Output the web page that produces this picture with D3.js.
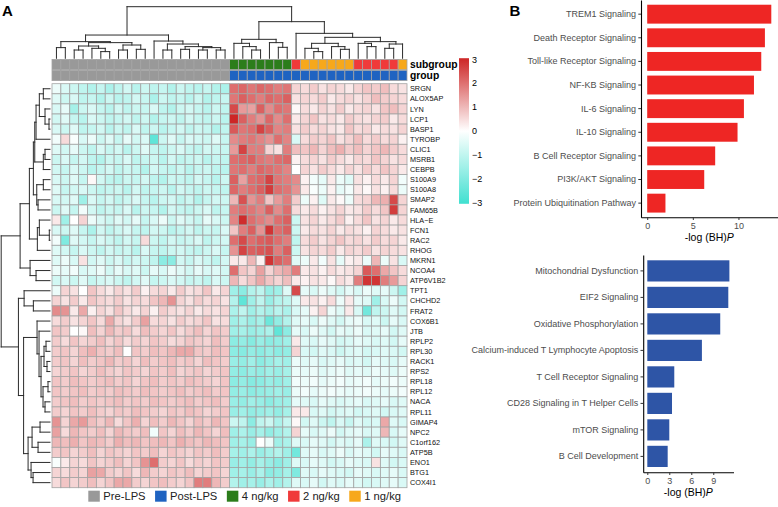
<!DOCTYPE html>
<html><head><meta charset="utf-8">
<script src="https://cdn.jsdelivr.net/npm/d3@7"></script>
<style>body{margin:0;background:#fff} svg{display:block;font-family:"Liberation Sans",Arial,sans-serif}</style>
</head><body><svg id="c" width="778" height="507"></svg>
<script>
// ---------------- DATA ----------------
const genes = ["SRGN","ALOX5AP","LYN","LCP1","BASP1","TYROBP","CLIC1","MSRB1","CEBPB","S100A9","S100A8","SMAP2","FAM65B","HLA−E","FCN1","RAC2","RHOG","MKRN1","NCOA4","ATP6V1B2","TPT1","CHCHD2","FRAT2","COX6B1","JTB","RPLP2","RPL30","RACK1","RPS2","RPL18","RPL12","NACA","RPL11","GIMAP4","NPC2","C1orf162","ATP5B","ENO1","BTG1","COX4I1"];
const groupOfColumn = ["Pre-LPS","Pre-LPS","Pre-LPS","Pre-LPS","Pre-LPS","Pre-LPS","Pre-LPS","Pre-LPS","Pre-LPS","Pre-LPS","Pre-LPS","Pre-LPS","Pre-LPS","Pre-LPS","Pre-LPS","Pre-LPS","Pre-LPS","Pre-LPS","Pre-LPS","Pre-LPS","Post-LPS","Post-LPS","Post-LPS","Post-LPS","Post-LPS","Post-LPS","Post-LPS","Post-LPS","Post-LPS","Post-LPS","Post-LPS","Post-LPS","Post-LPS","Post-LPS","Post-LPS","Post-LPS","Post-LPS","Post-LPS","Post-LPS","Post-LPS"];
const subgroupOfColumn = ["Pre-LPS","Pre-LPS","Pre-LPS","Pre-LPS","Pre-LPS","Pre-LPS","Pre-LPS","Pre-LPS","Pre-LPS","Pre-LPS","Pre-LPS","Pre-LPS","Pre-LPS","Pre-LPS","Pre-LPS","Pre-LPS","Pre-LPS","Pre-LPS","Pre-LPS","Pre-LPS","4 ng/kg","4 ng/kg","4 ng/kg","4 ng/kg","4 ng/kg","4 ng/kg","4 ng/kg","2 ng/kg","1 ng/kg","1 ng/kg","1 ng/kg","1 ng/kg","1 ng/kg","1 ng/kg","2 ng/kg","2 ng/kg","2 ng/kg","2 ng/kg","2 ng/kg","1 ng/kg"];
const legendLabels = ["Pre-LPS","Post-LPS","4 ng/kg","2 ng/kg","1 ng/kg"];
const legendColors = ["#999999","#1f63c1","#2c7d1b","#f03a3a","#f7a81b"];
const colorTicks = [3,2,1,0,-1,-2,-3];

const heatValues = [
[-0.3,-0.6,-0.8,-1.0,-1.2,-0.9,-1.3,-1.0,-0.7,-1.1,-0.8,-1.0,-0.9,-1.2,-0.8,-1.0,-1.1,-0.9,-1.2,-1.3,2.0,2.1,1.9,2.1,2.0,1.8,1.9,0.6,0.5,0.7,0.4,0.6,0.5,0.3,0.6,0.8,0.7,0.9,0.5,0.4],
[-0.5,-0.8,-0.6,-1.0,-0.9,-1.2,-0.8,-1.1,-1.0,-0.7,-0.9,-1.3,-0.8,-1.0,-0.9,-1.1,-0.8,-1.2,-1.0,-0.9,1.9,2.2,2.0,1.8,2.1,2.0,2.2,0.4,0.6,0.5,0.7,0.3,0.5,0.6,0.4,0.6,0.9,0.7,0.6,0.5],
[-0.6,-0.4,-1.4,-0.8,-0.6,-0.9,-1.1,-0.7,-1.0,-0.8,-0.9,-0.6,-1.0,-1.2,-0.8,-0.7,-0.9,-1.1,-0.8,-1.0,2.5,1.4,1.3,2.2,1.6,2.0,1.9,0.1,0.5,0.3,0.6,0.4,0.7,0.3,0.5,0.6,0.4,0.8,0.9,0.6],
[-0.7,-0.5,-0.9,-1.1,-0.6,-0.8,-1.0,-0.9,-0.7,-1.0,-0.8,-1.2,-0.9,-0.8,-1.0,-0.7,-0.9,-1.0,-0.8,-1.1,3.0,2.2,1.8,1.5,2.1,1.6,2.0,0.3,0.6,0.8,0.4,0.5,0.3,0.7,0.5,0.4,0.6,0.7,0.3,0.5],
[-0.6,-0.8,-0.5,-1.0,-0.9,-0.7,-1.1,-0.8,-1.0,-0.6,-1.0,-0.8,-1.1,-0.9,-0.7,-1.0,-0.8,-0.9,-1.2,-1.0,2.3,1.9,2.0,2.6,2.2,1.7,1.8,0.4,0.7,0.5,0.6,0.4,0.3,0.8,0.5,0.6,0.3,0.5,0.4,0.6],
[-0.2,0.5,-0.1,-0.6,-0.3,-0.8,-0.5,-0.9,-0.4,-0.7,-0.6,-2.5,-0.8,-0.5,-0.9,-0.6,-0.7,-0.8,-0.5,-0.9,1.6,1.8,1.9,1.7,1.5,2.0,1.7,-0.6,0.5,0.7,0.6,0.8,0.4,0.6,0.9,0.5,0.7,0.5,0.6,0.2],
[-0.5,-0.7,-0.4,-0.8,-1.0,-0.6,-0.9,-0.7,-1.1,-0.8,-0.5,-0.9,-1.0,-0.8,-0.6,-0.9,-1.0,-0.7,-0.8,-0.9,1.4,2.6,1.8,1.8,0.6,0.4,1.8,0.9,0.8,1.0,0.6,0.9,1.1,0.7,0.9,0.6,0.8,1.0,0.7,0.5],
[-0.8,-0.6,-0.9,-0.7,-1.0,-1.2,-0.8,-0.9,-0.6,-1.0,-0.9,-0.8,-1.1,-0.7,-1.0,-0.9,-0.8,-1.1,-0.9,-1.0,2.0,2.1,2.2,1.9,1.8,2.0,2.1,0.2,0.5,0.6,0.4,0.7,0.5,0.3,0.6,0.5,0.8,0.6,0.4,0.5],
[-0.7,-0.9,-0.6,-0.8,-1.1,-0.9,-0.7,-1.0,-0.8,-0.9,-1.2,-0.7,-0.9,-1.0,-0.8,-1.1,-0.9,-0.8,-1.0,-1.1,1.9,2.0,1.8,2.1,2.0,1.9,1.7,0.0,0.6,0.4,0.7,0.5,0.3,0.6,0.4,0.7,0.5,0.8,0.6,0.3],
[-0.6,-0.8,-0.5,-0.9,0.1,-0.7,-1.0,-1.1,-0.8,-0.9,-0.7,-1.0,-1.2,-0.8,-0.9,-1.0,-0.7,-0.9,-1.1,-0.8,2.2,1.3,2.0,2.1,2.6,1.9,1.8,1.6,0.2,-0.2,-0.4,0.3,-0.3,-0.5,0.4,0.2,0.5,0.3,0.6,-0.2],
[-0.5,-0.9,-0.7,-0.6,-0.8,-1.0,-0.9,-0.8,-1.1,-0.7,-1.0,-0.9,-0.8,-1.1,-0.7,-0.9,-1.0,-0.8,-0.9,-1.0,2.1,1.8,2.0,2.2,2.7,2.0,1.9,1.5,0.3,-0.1,-0.3,0.2,-0.4,-0.2,0.3,0.1,0.4,0.2,0.5,-0.3],
[-0.6,-0.7,-0.5,-1.5,-0.6,-0.9,-0.7,-1.0,-0.8,-0.6,-0.9,-1.1,-0.8,-0.7,-1.0,-0.8,-1.2,-0.9,-0.7,-0.8,1.0,2.4,1.5,1.8,0.8,1.4,1.8,0.7,-0.3,0.2,-0.5,0.3,0.1,-0.3,0.5,0.6,1.0,1.1,2.5,0.6],
[-0.8,-0.5,-0.9,-0.2,-0.7,-1.0,-0.8,-0.9,-0.6,-1.1,-0.8,-0.9,-1.2,-0.7,-0.9,-1.0,-0.8,-0.6,-1.0,-0.9,1.8,2.0,1.9,1.7,2.2,1.6,2.0,0.5,0.3,0.5,0.2,0.4,0.6,0.3,0.4,0.7,0.5,0.8,2.7,0.6],
[0.3,-1.5,0.0,0.6,-0.3,-0.6,-0.8,-0.5,-0.7,-0.4,-0.9,-0.6,-0.3,-0.8,-0.5,-0.7,-0.9,-0.4,-0.6,-0.8,1.7,2.9,2.0,1.8,1.6,2.0,2.2,-0.8,0.4,0.6,0.3,0.5,0.7,0.2,0.5,0.8,0.4,0.6,0.3,0.5],
[-0.6,-0.8,-0.5,-0.9,-1.3,-0.7,-1.0,-0.8,-0.6,-0.9,-1.0,-0.7,-0.8,-1.1,-0.9,-0.7,-1.0,-0.8,-0.9,-0.6,0.8,1.8,2.2,1.5,2.8,2.0,2.2,-0.8,0.3,0.5,0.4,0.6,0.3,0.5,0.4,0.2,0.6,0.5,0.3,0.4],
[-0.2,-2.0,-0.5,-0.7,-0.9,-0.6,-0.8,-1.0,-0.7,-0.9,0.5,-0.8,-1.0,-0.7,-0.9,-0.8,-0.6,-1.0,-0.8,-0.7,2.0,2.5,2.0,2.2,2.3,2.0,1.8,-1.0,0.5,0.7,0.4,0.6,0.8,0.5,0.6,0.4,0.7,0.5,0.6,0.3],
[-0.5,-0.7,-0.9,-0.6,-0.8,-1.0,-0.7,-0.9,-0.8,-1.1,-0.6,-0.9,-1.0,-0.8,-0.7,-0.9,-1.0,-0.8,-0.6,-0.9,1.5,2.6,2.2,2.3,2.4,1.8,2.2,-0.8,0.4,0.6,0.5,0.7,0.3,0.6,0.5,0.7,0.4,0.6,0.5,0.4],
[-0.5,-0.3,-0.6,0.4,-0.7,-0.5,-0.8,-0.6,-0.9,-0.7,-0.8,-1.0,-1.8,-1.8,-0.7,-0.9,-0.6,-0.8,-1.0,-0.7,0.3,0.3,1.0,0.2,2.8,2.2,2.0,-0.5,-0.3,0.3,-0.2,0.4,-0.4,0.2,0.3,-0.3,1.0,-0.3,0.4,-0.6],
[-0.3,-0.4,-0.2,-0.6,-0.5,-0.3,-0.7,-0.4,-0.6,-0.5,-0.8,-0.4,-0.6,-0.3,-0.5,-0.7,-0.4,-0.6,-0.5,-0.7,2.0,0.8,0.6,1.3,0.6,1.0,1.2,1.8,0.3,0.4,0.2,0.5,0.3,0.4,0.6,2.3,2.0,1.2,0.8,0.5],
[-0.7,-0.6,-0.8,-0.5,-0.9,-0.7,-0.6,-0.8,-1.0,-0.7,-0.5,-0.9,-0.8,-0.6,-0.7,-0.9,-0.8,-1.0,-0.6,-0.8,1.0,0.5,0.8,1.2,0.8,0.6,0.9,0.3,0.2,0.4,0.3,0.1,0.5,0.3,1.8,2.8,2.8,1.8,1.4,0.6],
[-0.3,0.6,0.4,0.0,0.8,0.5,0.3,0.6,0.4,0.7,0.2,0.5,0.6,0.3,0.7,0.4,0.5,0.8,0.3,0.6,-1.5,-1.8,-1.2,-1.0,-1.6,-1.5,-0.5,2.5,-0.4,-0.6,-0.3,-0.5,-0.7,-0.4,-0.6,-0.3,-0.5,-0.4,-0.8,-1.5],
[0.6,0.4,0.7,0.3,0.8,0.6,0.5,0.7,0.4,0.6,0.5,0.8,1.0,1.5,0.6,0.4,0.7,0.5,0.6,0.4,-1.2,-2.5,-1.5,-1.0,-1.6,-1.2,-1.0,-0.5,0.3,0.4,0.2,0.5,-0.3,0.3,-0.4,-0.5,-1.5,-0.6,-0.3,-0.7],
[1.6,1.5,0.3,1.2,0.2,0.6,0.4,0.8,0.5,0.3,0.6,0.2,0.7,0.5,0.4,0.6,0.3,0.5,0.4,0.6,-1.3,-1.0,-1.5,-1.2,-1.4,-1.1,-1.3,-0.6,-0.4,0.2,0.6,-0.3,-0.5,0.3,-0.6,-2.2,-1.0,-0.8,-0.5,-0.7],
[0.5,0.7,0.4,0.6,0.8,0.5,1.2,0.6,0.4,0.7,1.3,0.5,0.6,0.4,0.7,0.5,0.6,0.8,0.4,0.5,-1.5,-1.3,-1.6,-1.4,-2.3,-1.7,-1.2,-0.5,-0.4,-0.6,-0.3,-0.5,-0.7,-0.4,-0.3,-0.6,-0.5,-0.8,-0.4,-0.6],
[0.8,0.7,0.0,0.1,0.9,0.6,1.0,0.7,0.8,0.5,0.9,0.7,0.6,0.8,0.5,0.7,0.9,0.6,0.8,0.7,-1.5,-1.4,-1.6,-1.5,-1.3,-2.5,-1.8,-0.4,-0.6,-0.3,-0.5,-0.7,-0.4,-0.5,-0.3,-0.6,-0.5,-0.4,-0.7,-0.5],
[0.7,0.5,0.8,0.6,0.7,0.9,0.6,0.8,0.5,0.7,0.6,0.8,0.7,0.5,0.6,0.8,0.7,0.6,0.9,0.7,-1.8,-1.7,-1.9,-1.6,-1.8,-1.7,-1.5,0.3,-0.5,-0.6,-0.4,-0.5,-0.7,-0.6,-0.4,-0.5,-0.6,-0.5,-0.7,-0.4],
[0.7,0.8,0.6,0.9,1.1,0.8,0.7,0.9,0.0,0.8,0.7,0.9,0.8,1.0,1.2,1.2,0.8,0.7,0.9,0.8,-1.8,-1.9,-1.7,-1.8,-1.6,-1.8,-1.7,0.6,-0.6,-0.7,-0.5,-0.6,-0.8,-0.6,-0.5,-0.7,-0.6,-0.5,-0.6,-0.7],
[0.7,0.8,0.6,0.9,0.7,0.8,1.0,0.7,0.8,0.6,0.9,0.7,0.8,0.9,0.7,0.8,0.6,0.9,0.8,0.7,-1.6,-1.7,-1.5,-1.8,-1.6,-1.4,-1.5,-0.3,-0.5,-0.4,-0.6,-0.5,-0.4,-0.6,-0.5,-0.7,-0.4,-0.5,-0.6,-0.4],
[0.6,0.7,0.8,0.6,0.7,0.9,0.7,0.6,0.8,0.7,0.6,0.8,0.7,0.9,0.6,0.7,0.8,0.6,0.7,0.8,-1.7,-1.8,-1.6,-1.7,-1.5,-1.6,-1.4,-0.3,-0.4,-0.3,-0.5,-0.4,-0.3,-0.5,-0.4,-0.5,-0.3,-0.4,-0.5,-0.3],
[0.8,0.7,0.9,0.8,0.7,0.8,0.9,0.7,0.8,0.6,0.8,0.9,0.7,0.8,0.7,0.9,0.8,0.7,0.6,0.8,-1.8,-1.7,-1.9,-1.8,-1.6,-1.7,-1.5,-0.2,-0.3,-0.2,-0.4,-0.3,-0.2,-0.4,-0.3,-0.2,-0.4,-0.3,-0.2,-0.3],
[0.8,0.7,0.8,0.9,0.7,0.8,0.7,0.9,0.8,0.7,0.9,0.8,0.7,0.8,0.9,0.7,0.8,0.9,0.7,0.8,-1.7,-1.6,-1.8,-1.7,-1.6,-1.5,-1.6,-0.3,-0.2,-0.4,-0.3,-0.2,-0.3,-0.4,-0.3,-0.2,-0.3,-0.4,-0.3,-0.2],
[0.7,0.8,0.9,0.7,0.8,0.7,0.8,0.9,0.7,0.8,0.7,0.9,0.8,0.7,0.8,0.9,0.7,0.8,0.9,0.7,-1.6,-1.7,-1.5,-1.6,-1.8,-1.6,-1.5,-0.4,-0.5,-0.6,-0.4,-0.5,-0.6,-0.5,-0.4,-0.6,-0.5,-0.4,-0.6,-0.5],
[0.7,0.6,0.8,0.7,0.9,0.7,0.6,0.8,0.7,0.9,0.8,0.7,0.6,0.8,0.7,0.9,0.8,0.6,0.7,0.8,-1.6,-1.5,-1.7,-1.6,-1.5,-1.7,-1.4,0.3,0.3,-0.6,-0.5,-0.7,-0.6,-0.5,-0.7,-0.6,-0.5,-0.7,-0.6,-0.5],
[1.5,0.6,1.2,1.4,0.9,0.7,1.0,0.5,0.8,1.1,0.6,0.9,0.7,1.0,0.8,0.6,0.9,0.7,1.0,0.8,-0.8,-1.0,-1.8,-1.0,-0.8,-1.3,-0.9,0.1,-0.7,-0.5,-0.8,-1.0,-0.6,-0.9,-0.5,-0.7,-0.6,1.2,-0.5,-0.6],
[1.3,0.5,1.0,0.8,0.7,0.9,0.6,1.0,0.8,0.7,0.9,-0.2,0.8,0.6,0.9,0.7,1.0,0.8,0.6,0.9,-1.5,-1.3,-1.6,-1.4,-1.7,-1.5,-1.2,0.6,-0.4,-0.6,-0.5,-0.3,-0.7,-0.5,-0.4,-0.6,-0.5,1.0,-0.6,-0.4],
[1.0,0.9,1.1,0.8,1.0,0.9,0.7,1.1,0.9,1.0,0.8,0.9,1.0,0.8,1.1,0.9,0.8,1.0,0.9,0.8,-1.5,-1.4,-1.6,0.0,-0.3,-1.5,-1.3,-0.5,-0.6,-0.4,-0.5,-0.7,-0.5,-0.6,-0.4,-1.3,-0.5,-0.6,-0.7,-0.5],
[0.7,0.8,0.6,0.7,0.9,0.6,0.8,0.7,0.6,0.8,0.7,0.9,0.6,0.8,0.7,0.6,0.8,0.7,0.9,0.7,-1.4,-1.5,-1.3,-1.6,-1.4,-1.2,-1.5,-2.2,-0.5,-0.4,-0.6,-0.5,-0.3,-0.6,-0.4,-0.5,-0.7,-0.4,-0.5,-0.6],
[-0.1,0.3,0.6,0.5,0.8,0.6,0.7,0.9,0.6,0.8,1.5,2.0,0.7,0.6,0.8,0.5,0.7,0.6,0.8,0.7,-1.6,-1.5,-1.7,-1.4,-1.6,-1.8,-1.5,-0.5,-0.6,-0.4,-0.5,-0.7,-0.6,-0.4,-0.5,-0.6,0.4,-0.5,-0.7,-0.6],
[0.6,0.5,0.7,0.6,1.3,1.2,0.7,0.6,0.8,0.5,1.0,0.7,0.6,0.8,0.7,0.9,0.6,0.7,0.8,0.6,-1.5,-1.4,-1.6,-1.3,-1.8,-1.7,-1.4,-2.0,-0.5,-0.6,-0.4,-0.5,-0.6,-0.7,-0.4,-0.5,-0.6,-0.5,-0.4,-0.6],
[0.5,0.8,0.6,0.7,0.9,0.6,0.8,1.2,1.2,0.7,0.6,0.8,0.9,0.7,0.6,0.8,1.8,1.8,1.0,0.7,-1.2,-1.5,-1.4,-1.6,-1.3,-1.5,-1.2,-0.5,-0.6,-0.4,-0.7,-0.5,-0.6,-0.4,-0.5,-0.7,-0.6,-0.5,-0.4,-0.6]
];

// hclust-style merges: negative = leaf (1-based), positive = earlier merge (1-based); third = height
const colMerges = [
[-1,-2,10.7],[-3,-4,8.3],[-6,-7,6.7],[-5,3,10],[2,4,12.3],[-8,-9,8.3],[-10,-11,9],[6,7,13.3],[5,8,15.7],[1,9,16.7],
[-13,-14,8.3],[-15,-16,9],[-17,-18,8.3],[-19,-20,8.3],[13,14,10.7],[12,15,11.7],[11,16,14.3],[-12,17,17.3],[10,18,23.3],
[-23,-24,8.3],[-22,20,11.7],[-21,21,15],[-26,-27,11],[-25,23,15.7],[22,24,19],
[-30,-31,6.7],[-29,26,10],[-33,-34,9],[-32,28,11.7],[27,29,15],[-36,-37,11.7],[-35,31,15],[-38,-39,10],[33,-40,14.3],[32,34,16.7],[30,35,21],[-28,36,25],[25,37,36.7],[19,38,51.7]
];
const rowMerges = [
[-4,-5,1.0],[-3,1,5.0],[-1,-2,6.7],[3,2,10.7],[4,-6,14.0],[-7,-8,5.0],[6,-9,6.7],[5,7,15.3],[-10,-11,6.7],[-12,-13,12.0],
[9,10,13.3],[8,11,16.7],[-15,-16,0.7],[-14,13,10.7],[14,-17,12.7],[12,15,20.7],[-19,-20,14.0],[-18,17,20.0],[16,18,30.0],
[-22,-23,16.7],[-21,20,26.0],[-26,-27,4.0],[-28,-29,3.0],[22,23,6.0],[-30,-31,2.0],[-32,-33,5.0],[25,26,7.0],[24,27,9.0],
[-25,28,11.0],[-24,29,13.0],[-34,-35,10.0],[-36,-37,12.0],[31,32,18.0],[-39,-40,17.0],[-38,34,19.0],[33,35,22.0],[30,36,26.5],[21,37,31.7],[19,38,49.0]
];

const upPathways = ["TREM1 Signaling","Death Receptor Signaling","Toll-like Receptor Signaling","NF-KB Signaling","IL-6 Signaling","IL-10 Signaling","B Cell Receptor Signaling","PI3K/AKT Signaling","Protein Ubiquitination Pathway"];
const upValues = [13.6,12.9,12.5,11.7,10.6,9.9,7.45,6.25,2.0];
const upTicks = [0,5,10];
const downPathways = ["Mitochondrial Dysfunction","EIF2 Signaling","Oxidative Phosphorylation","Calcium-induced T Lymphocyte Apoptosis","T Cell Receptor Signaling","CD28 Signaling in T Helper Cells","mTOR Signaling","B Cell Development"];
const downValues = [11.2,11.05,9.95,7.45,3.68,3.37,3.0,2.78];
const downTicks = [0,3,6,9];

// ---------------- DRAW ----------------
const svg = d3.select("#c");
const nCol = groupOfColumn.length;
const x = d3.scaleBand().domain(d3.range(nCol)).range([52, 407]);
const y = d3.scaleBand().domain(d3.range(genes.length)).range([83.7, 487.7]);
const color = d3.scaleLinear().domain([-3,0,3]).range(["#40E0D0","#FFFFFF","#CD2626"]).clamp(true);
const annColor = d3.scaleOrdinal().domain(legendLabels).range(legendColors);

// heatmap cells
const cells = [];
heatValues.forEach((row, r) => row.forEach((v, c) => cells.push({r, c, v})));
svg.append("g").selectAll("rect").data(cells).join("rect")
  .attr("x", d => x(d.c)).attr("y", d => y(d.r))
  .attr("width", x.bandwidth()).attr("height", y.bandwidth())
  .attr("fill", d => color(d.v)).attr("stroke", "#a3a3a3").attr("stroke-width", 0.8);

// annotations
const annY = d3.scaleBand().domain(["subgroup","group"]).range([59.4, 80.6]).paddingInner(0.06);
const annData = [];
subgroupOfColumn.forEach((s, c) => annData.push({row:"subgroup", c, v:s}));
groupOfColumn.forEach((s, c) => annData.push({row:"group", c, v:s}));
svg.append("g").selectAll("rect").data(annData).join("rect")
  .attr("x", d => x(d.c)).attr("y", d => annY(d.row))
  .attr("width", x.bandwidth()).attr("height", annY.bandwidth())
  .attr("fill", d => annColor(d.v)).attr("stroke", "#a3a3a3").attr("stroke-width", 0.8);
svg.append("g").selectAll("text").data(annY.domain()).join("text")
  .attr("x", 410).attr("y", d => annY(d) + annY.bandwidth()/2)
  .attr("dy", "0.35em").attr("font-size", 10.3).attr("font-weight", "bold").text(d => d);

// gene labels
svg.append("g").selectAll("text").data(genes).join("text")
  .attr("x", 410).attr("y", (d, i) => y(i) + y.bandwidth()/2).attr("dy", "0.35em")
  .attr("font-size", 7.3).attr("fill", "#111").text(d => d);

// dendrograms
function dendroSegments(merges, leafPos) {
  const pos = [], hts = [], segs = [];
  const get = k => k < 0 ? [leafPos(-k - 1), 0] : [pos[k - 1], hts[k - 1]];
  merges.forEach(([a, b, h], i) => {
    const [pa, ha] = get(a), [pb, hb] = get(b);
    segs.push([pa, ha, pa, h], [pb, hb, pb, h], [pa, h, pb, h]);
    pos[i] = (pa + pb) / 2; hts[i] = h;
  });
  return segs;
}
const colH = d3.scaleLinear().domain([0, d3.max(colMerges, d => d[2])]).range([58.3, 6.7]);
const colSegs = dendroSegments(colMerges, i => x(i) + x.bandwidth()/2);
svg.append("g").selectAll("line").data(colSegs).join("line")
  .attr("x1", d => d[0]).attr("y1", d => colH(d[1])).attr("x2", d => d[2]).attr("y2", d => colH(d[3]))
  .attr("stroke", "#2b2b2b").attr("stroke-width", 1).attr("stroke-linecap", "square");
const rowH = d3.scaleLinear().domain([0, d3.max(rowMerges, d => d[2])]).range([50, 1.2]);
const rowSegs = dendroSegments(rowMerges, i => y(i) + y.bandwidth()/2);
svg.append("g").selectAll("line").data(rowSegs).join("line")
  .attr("y1", d => d[0]).attr("x1", d => rowH(d[1])).attr("y2", d => d[2]).attr("x2", d => rowH(d[3]))
  .attr("stroke", "#2b2b2b").attr("stroke-width", 1).attr("stroke-linecap", "square");

// color legend
const ly = d3.scaleLinear().domain([-3, 3]).range([202.6, 59.4]);
const defs = svg.append("defs");
const grad = defs.append("linearGradient").attr("id", "hg").attr("x1", 0).attr("y1", 1).attr("x2", 0).attr("y2", 0);
d3.range(-3, 3.01, 0.5).forEach(v => grad.append("stop").attr("offset", (v + 3) / 6).attr("stop-color", color(v)));
svg.append("rect").attr("x", 459).attr("y", ly(3.05)).attr("width", 10).attr("height", ly(-3.05) - ly(3.05)).attr("fill", "url(#hg)");
svg.append("g").selectAll("text").data(colorTicks).join("text")
  .attr("x", 472).attr("y", d => ly(d)).attr("dy", "0.35em").attr("font-size", 9)
  .text(d => d < 0 ? "−" + Math.abs(d) : d);

// bottom legend
const lg = svg.append("g").attr("font-size", 11.2);
let lx = 88.3;
legendLabels.forEach((lab, i) => {
  lg.append("rect").attr("x", lx).attr("y", 490.7).attr("width", 11.5).attr("height", 11).attr("fill", legendColors[i]);
  const t = lg.append("text").attr("x", lx + 15).attr("y", 496.4).attr("dy", "0.36em").attr("fill", "#222").text(lab);
  lx += 15 + t.node().getComputedTextLength() + 9.5;
});

// panel labels
svg.append("text").attr("x", 2).attr("y", 15.5).attr("font-size", 15).attr("font-weight", "bold").text("A");
svg.append("text").attr("x", 509.5).attr("y", 15.5).attr("font-size", 15).attr("font-weight", "bold").text("B");

// bar charts
function barChart(cats, vals, ticks, fill, x0, x1, y0, y1) {
  const g = svg.append("g");
  const vmax = d3.max(vals);
  const xs = d3.scaleLinear().domain([-0.05 * vmax, 1.05 * vmax]).range([x0, x1]);
  const ys = d3.scaleBand().domain(cats).range([y0, y1]).paddingInner(0.2).paddingOuter(0.2);
  g.selectAll("rect").data(cats).join("rect")
    .attr("x", xs(0)).attr("y", d => ys(d)).attr("height", ys.bandwidth())
    .attr("width", (d, i) => xs(vals[i]) - xs(0)).attr("fill", fill);
  const ax = g.append("g").attr("transform", `translate(0,${y1})`)
    .call(d3.axisBottom(xs).tickValues(ticks).tickSize(2.7).tickPadding(2.2).tickSizeOuter(0));
  const ay = g.append("g").attr("transform", `translate(${x0},0)`)
    .call(d3.axisLeft(ys).tickSize(2.7).tickPadding(2.2).tickSizeOuter(0));
  [ax, ay].forEach(a => {
    a.select(".domain").attr("stroke", "#000").attr("stroke-width", 1.1);
    a.selectAll(".tick line").attr("stroke", "#333").attr("stroke-width", 1);
    a.selectAll(".tick text").attr("fill", "#4d4d4d").attr("font-size", 9).attr("font-family", "Liberation Sans, Arial, sans-serif");
  });
  const title = g.append("text").attr("x", (x0 + x1) / 2).attr("y", y1 + 23.5)
    .attr("text-anchor", "middle").attr("font-size", 10.5).attr("fill", "#000");
  title.append("tspan").text("-log (BH)");
  title.append("tspan").attr("font-style", "italic").text("P");
}
barChart(upPathways, upValues, upTicks, "#ee2624", 641, 777.5, 0, 217.3);
barChart(downPathways, downValues, downTicks, "#2e55a6", 643.2, 733.5, 255, 472.3);
</script></body></html>
